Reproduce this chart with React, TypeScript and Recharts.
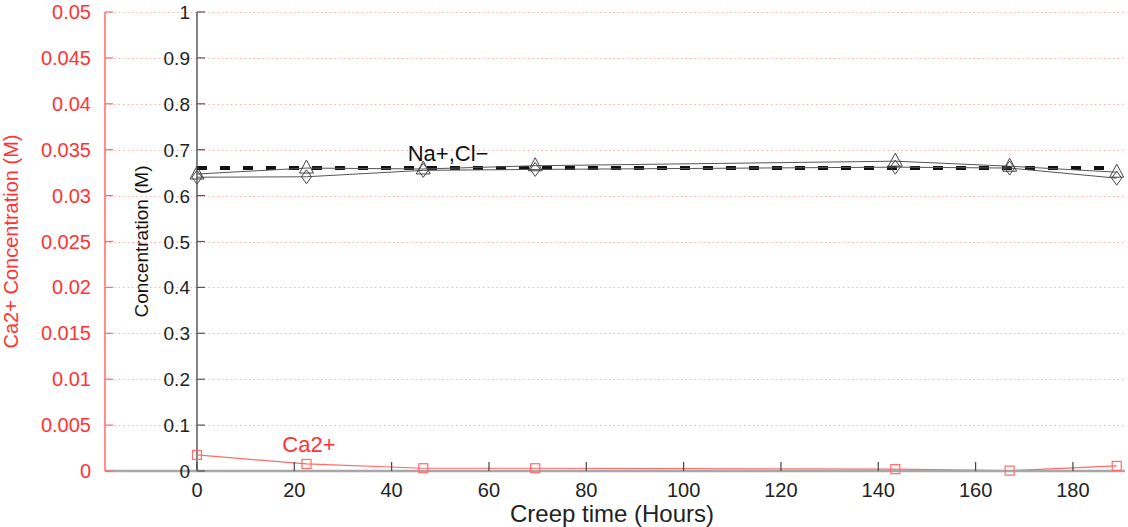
import React from 'react';
import {
  ComposedChart,
  Line,
  XAxis,
  YAxis,
  CartesianGrid,
  ReferenceLine,
  ReferenceDot,
  Label,
} from 'recharts';

// ---- data ----
const hours = [0, 22.5, 46.5, 69.5, 143.5, 167, 189];
const naConc = [0.647, 0.66, 0.658, 0.665, 0.675, 0.664, 0.651];
const clConc = [0.64, 0.641, 0.655, 0.657, 0.662, 0.66, 0.638];
const caConc = [0.00175, 0.00077, 0.0003, 0.0003, 0.0002, 0.00004, 0.00055];
const nominalConc = [0.66, 0.66, 0.66, 0.66, 0.66, 0.66, 0.66];

const xTicks = [0, 20, 40, 60, 80, 100, 120, 140, 160, 180];
const concTicks = [0, 0.1, 0.2, 0.3, 0.4, 0.5, 0.6, 0.7, 0.8, 0.9, 1];
const caTicks = [0, 0.005, 0.01, 0.015, 0.02, 0.025, 0.03, 0.035, 0.04, 0.045, 0.05];

const xDomain: [number, number] = [-18.9, 190.7];

const data = hours.map((h, i) => ({
  hours: h,
  na: naConc[i],
  cl: clConc[i],
  ca: caConc[i],
  nominal: nominalConc[i],
}));

// ---- layout constants ----
const W = 1128;
const H = 527;
const M = { top: 12, right: 3, bottom: 0, left: 0 };
const RED_AXIS_W = 104;
const BLACK_AXIS_W = 1;
const PLOT_LEFT = M.left + RED_AXIS_W + BLACK_AXIS_W;
const PLOT_W = W - M.right - PLOT_LEFT;
const ZERO_PX = PLOT_LEFT + (PLOT_W * (0 - xDomain[0])) / (xDomain[1] - xDomain[0]);

const RED = '#ff3333';
const RED_LINE = '#ff6a6a';
const GRID = '#ff6b6b';
const FONT = '"Liberation Sans", Arial, Helvetica, sans-serif';

const RedTick = (props: any) => {
  const { y, payload } = props;
  const x = PLOT_LEFT;
  return (
    <g>
      <line x1={x} x2={x + 8} y1={y} y2={y} stroke={RED_LINE} strokeWidth={1.2} />
      <text x={x - 14} y={y + 7} textAnchor="end" fill={RED} fontSize={20}>
        {payload.value}
      </text>
    </g>
  );
};

const BlackTick = (props: any) => {
  const { y, payload } = props;
  const ax = ZERO_PX;
  return (
    <g>
      <line x1={ax} x2={ax + 8} y1={y} y2={y} stroke="#555" strokeWidth={1.2} />
      <text x={ax - 7} y={y + 7} textAnchor="end" fill="#222" fontSize={19}>
        {payload.value}
      </text>
    </g>
  );
};

const XTick = (props: any) => {
  const { x, y, payload } = props;
  return (
    <g>
      <line x1={x} x2={x} y1={y} y2={y - 9} stroke="#444" strokeWidth={1.2} />
      <text x={x} y={y + 26} textAnchor="middle" fill="#222" fontSize={20}>
        {payload.value}
      </text>
    </g>
  );
};

const gridLine = (props: any) => {
  const { x1, x2, y1, index } = props;
  const yy = Math.round(y1) + 0.5;
  return (
    <line
      key={`g${index}`}
      x1={x1}
      x2={x2}
      y1={yy}
      y2={yy}
      stroke={GRID}
      strokeOpacity={0.55}
      strokeWidth={1}
      strokeDasharray="1.5 3"
    />
  );
};

const triangleDot = (props: any) => {
  const { cx, cy, index } = props;
  if (cx == null || cy == null) return <g key={index} />;
  return (
    <path
      key={`t${index}`}
      d={`M${cx},${cy - 8} L${cx + 7},${cy + 5} L${cx - 7},${cy + 5} Z`}
      fill="none"
      stroke="#444"
      strokeWidth={1}
    />
  );
};

const diamondDot = (props: any) => {
  const { cx, cy, index } = props;
  if (cx == null || cy == null) return <g key={index} />;
  return (
    <path
      key={`d${index}`}
      d={`M${cx},${cy - 7} L${cx + 5},${cy} L${cx},${cy + 7} L${cx - 5},${cy} Z`}
      fill="none"
      stroke="#444"
      strokeWidth={1}
    />
  );
};

const squareDot = (props: any) => {
  const { cx, cy, index } = props;
  if (cx == null || cy == null) return <g key={index} />;
  return (
    <rect
      key={`s${index}`}
      x={cx - 4.5}
      y={cy - 4.5}
      width={9}
      height={9}
      fill="none"
      stroke={RED_LINE}
      strokeWidth={1.2}
    />
  );
};

const redAxisLabel = (p: any) => {
  const vb = p.viewBox;
  const cy = vb.y + vb.height / 2;
  return (
    <text
      transform={`translate(18,${cy}) rotate(-90)`}
      textAnchor="middle"
      fill={RED}
      fontSize={20}
    >
      Ca2+ Concentration (M)
    </text>
  );
};

const blackAxisLabel = (p: any) => {
  const vb = p.viewBox;
  const cy = vb.y + vb.height / 2;
  return (
    <text
      transform={`translate(${ZERO_PX - 49},${cy}) rotate(-90)`}
      textAnchor="middle"
      fill="#111"
      fontSize={19}
    >
      Concentration (M)
    </text>
  );
};

const xAxisLabel = (p: any) => {
  const vb = p.viewBox;
  return (
    <text x={612} y={vb.y + 51} textAnchor="middle" fill="#222" fontSize={24}>
      Creep time (Hours)
    </text>
  );
};

export default function App() {
  return (
    <div style={{ position: 'absolute', left: 0, top: 0, background: '#fff' }}>
      <ComposedChart
        width={W}
        height={H}
        data={data}
        margin={M}
        style={{ fontFamily: FONT }}
      >
        <CartesianGrid
          yAxisId="c"
          vertical={false}
          horizontal={gridLine}
          stroke={GRID}
          strokeDasharray="1.5 3"
        />
        <XAxis
          dataKey="hours"
          type="number"
          domain={xDomain}
          ticks={xTicks}
          interval={0}
          allowDataOverflow
          height={56}
          tickLine={false}
          tickSize={0}
          tickMargin={0}
          axisLine={{ stroke: '#a8a8a8', strokeWidth: 2.5 }}
          tick={<XTick />}
          label={<Label content={xAxisLabel} />}
        />
        <YAxis
          yAxisId="c"
          orientation="left"
          domain={[0, 1]}
          ticks={concTicks}
          interval={0}
          width={BLACK_AXIS_W}
          tickLine={false}
          tickSize={0}
          tickMargin={0}
          axisLine={false}
          tick={<BlackTick />}
          label={<Label content={blackAxisLabel} />}
        />
        <YAxis
          yAxisId="ca"
          orientation="left"
          domain={[0, 0.05]}
          ticks={caTicks}
          interval={0}
          width={RED_AXIS_W}
          tickLine={false}
          tickSize={0}
          tickMargin={0}
          axisLine={false}
          tick={<RedTick />}
          label={<Label content={redAxisLabel} />}
        />
        <ReferenceLine yAxisId="ca" x={xDomain[0]} stroke={RED_LINE} strokeWidth={1.5} />
        <ReferenceLine yAxisId="c" x={0} stroke="#5a5a5a" strokeWidth={1.5} />
        <Line
          yAxisId="c"
          dataKey="nominal"
          stroke="#111"
          strokeWidth={4}
          strokeDasharray="10 13"
          dot={false}
          isAnimationActive={false}
        />
        <Line
          yAxisId="c"
          dataKey="cl"
          stroke="#555"
          strokeWidth={1}
          dot={diamondDot}
          isAnimationActive={false}
        />
        <Line
          yAxisId="c"
          dataKey="na"
          stroke="#555"
          strokeWidth={1}
          dot={triangleDot}
          isAnimationActive={false}
        />
        <Line
          yAxisId="ca"
          dataKey="ca"
          stroke={RED_LINE}
          strokeWidth={1.2}
          dot={squareDot}
          isAnimationActive={false}
        />
        <ReferenceDot
          yAxisId="c"
          x={51.6}
          y={0.693}
          r={0}
          fill="none"
          stroke="none"
          ifOverflow="visible"
          label={{ value: 'Na+,Cl−', position: 'center', fill: '#111', fontSize: 22 }}
        />
        <ReferenceDot
          yAxisId="c"
          x={23}
          y={0.059}
          r={0}
          fill="none"
          stroke="none"
          ifOverflow="visible"
          label={{ value: 'Ca2+', position: 'center', fill: RED, fontSize: 22 }}
        />
      </ComposedChart>
    </div>
  );
}
